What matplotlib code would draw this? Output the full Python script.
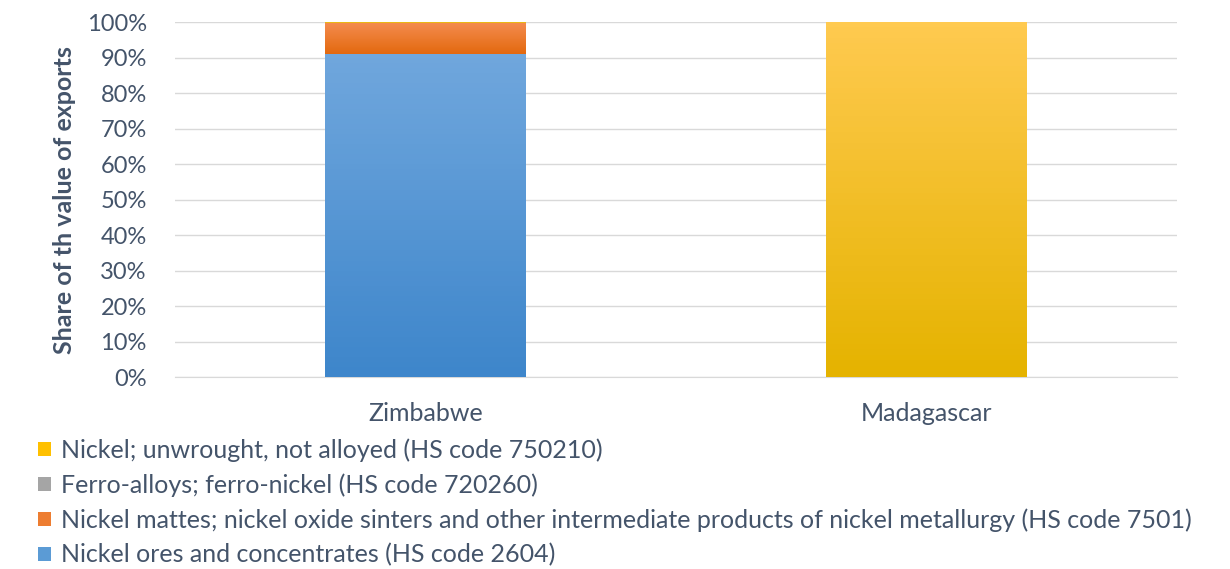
import numpy as np
import matplotlib
matplotlib.use("Agg")
import matplotlib.pyplot as plt
from matplotlib.patches import Patch
from matplotlib.colors import LinearSegmentedColormap
from matplotlib.ticker import PercentFormatter

countries = ["Zimbabwe", "Madagascar"]
ores = [91.1, 0.0]
mattes = [8.6, 0.0]
ferro = [0.0, 0.0]
unwrought = [0.3, 100.0]

labels = [
    "Nickel ores and concentrates (HS code 2604)",
    "Nickel mattes; nickel oxide sinters and other intermediate products of nickel metallurgy (HS code 7501)",
    "Ferro-alloys; ferro-nickel (HS code 720260)",
    "Nickel; unwrought, not alloyed (HS code 750210)",
]
# (top colour, bottom colour, legend colour)
colours = [
    ("#70A7DD", "#3E86CB", "#5B9BD5"),
    ("#F48B4D", "#E3690F", "#ED7D31"),
    ("#B8B8B8", "#8F8F8F", "#A5A5A5"),
    ("#FFCA50", "#E5B300", "#FFC000"),
]
text_col = "#44546A"

plt.rcParams["font.family"] = ["Lato", "DejaVu Sans"]

fig = plt.figure(figsize=(12.3, 5.69), dpi=100)
ax = fig.add_axes([0.142, 0.337, 0.815, 0.624])

x = np.arange(len(countries))
width = 0.40
bottom = np.zeros(len(countries))
series = [ores, mattes, ferro, unwrought]
for vals, (top_c, bot_c, base_c) in zip(series, colours):
    vals = np.array(vals)
    bars = ax.bar(x, vals, width, bottom=bottom, color=base_c, linewidth=0, zorder=2)
    cmap = LinearSegmentedColormap.from_list("g", [bot_c, top_c])
    for b in bars:
        h = b.get_height()
        if h <= 0:
            continue
        bx, by, bw = b.get_x(), b.get_y(), b.get_width()
        # gradient per segment, light at top
        grad = np.linspace(0, 1, 64).reshape(-1, 1)
        im = ax.imshow(grad, cmap=cmap, vmin=0, vmax=1, origin="lower",
                       extent=[bx, bx + bw, by, by + h], aspect="auto", zorder=3)
        im.set_clip_path(b)
    bottom += vals

ax.set_xlim(-0.5, 1.5)
ax.set_ylim(0, 100)
ax.set_yticks(np.arange(0, 101, 10))
ax.yaxis.set_major_formatter(PercentFormatter(decimals=0))
ax.set_xticks(x)
ax.set_xticklabels(countries)
ax.grid(axis="y", color="#D9D9D9", linewidth=1, zorder=0)
for s in ["top", "right", "left"]:
    ax.spines[s].set_visible(False)
ax.spines["bottom"].set_color("#D9D9D9")
ax.tick_params(axis="y", length=0, labelsize=17, colors=text_col, pad=20)
ax.tick_params(axis="x", length=0, labelsize=18, colors=text_col, pad=18)
ax.set_ylabel("Share of th value of exports", fontsize=18, fontweight="bold",
              color=text_col, labelpad=8)

handles = [Patch(facecolor=c[2], label=l) for c, l in zip(colours, labels)][::-1]
fig.legend(handles=handles, loc="upper left", bbox_to_anchor=(0.031, 0.230),
           frameon=False, fontsize=18, labelcolor=text_col, handlelength=0.5,
           handleheight=0.5, handletextpad=0.4, labelspacing=0.46, borderaxespad=0,
           borderpad=0)

fig.savefig("out.png", dpi=100)
